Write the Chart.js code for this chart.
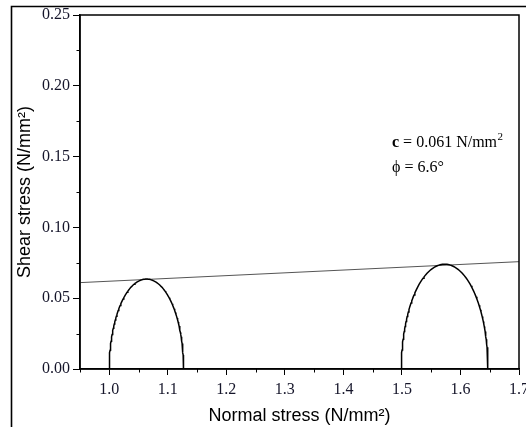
<!DOCTYPE html>
<html>
<head>
<meta charset="utf-8">
<script src="https://cdn.jsdelivr.net/npm/chart.js@4/dist/chart.umd.min.js"></script>
<style>
  html, body { margin: 0; padding: 0; background: #fff; }
  #wrap { position: relative; width: 526px; height: 427px; }
</style>
</head>
<body>
<div id="wrap"><canvas id="chart" width="526" height="427"></canvas></div>
<script>
// Principal stresses of the two tests (N/mm²): minor σ3 and major σ1
const sigma3 = [1.0, 1.499];
const sigma1 = [1.127, 1.647];

// Failure envelope end points (normal stress, shear stress)
const cohesion = 0.061;      // N/mm²
const frictionAngle = 6.6;   // degrees
const envelopeX = [0.95, 1.7];
const envelopeY = [cohesion, 0.0758];

// Axis ticks
const xTicks = [1.0, 1.1, 1.2, 1.3, 1.4, 1.5, 1.6, 1.7];
const xTickLabels = ['1.0', '1.1', '1.2', '1.3', '1.4', '1.5', '1.6', '1.7'];
const xMinorTicks = [0.95, 1.05, 1.15, 1.25, 1.35, 1.45, 1.55, 1.65];
const yTicks = [0, 0.05, 0.10, 0.15, 0.20, 0.25];
const yTickLabels = ['0.00', '0.05', '0.10', '0.15', '0.20', '0.25'];
const yMinorTicks = [0.025, 0.075, 0.125, 0.175, 0.225];

// Upper half of a Mohr circle through σ3 and σ1
function mohrHalf(s3, s1) {
  const c = (s1 + s3) / 2, r = (s1 - s3) / 2;
  const pts = [];
  const n = 120;
  for (let i = 0; i <= n; i++) {
    const a = Math.PI - Math.PI * i / n;
    pts.push({ x: c + r * Math.cos(a), y: r * Math.sin(a) });
  }
  return pts;
}

const serif = '"Liberation Serif", "Times New Roman", serif';
const sans = '"Liberation Sans", Arial, sans-serif';

const framePlugin = {
  id: 'frame',
  afterDraw(chart) {
    const { ctx, chartArea: a, scales } = chart;
    ctx.save();
    // outer figure border
    ctx.strokeStyle = '#000';
    ctx.lineWidth = 1.6;
    ctx.beginPath();
    ctx.moveTo(11.5, 427);
    ctx.lineTo(11.5, 6.5);
    ctx.lineTo(526, 6.5);
    ctx.stroke();
    // plot box
    ctx.lineWidth = 1.5;
    ctx.strokeRect(a.left, a.top, a.right - a.left, a.bottom - a.top);
    // minor ticks
    ctx.lineWidth = 1;
    ctx.beginPath();
    xMinorTicks.forEach(v => {
      const px = Math.round(scales.x.getPixelForValue(v)) + 0.5;
      ctx.moveTo(px, a.bottom);
      ctx.lineTo(px, a.bottom + 3.5);
    });
    yMinorTicks.forEach(v => {
      const py = Math.round(scales.y.getPixelForValue(v)) + 0.5;
      ctx.moveTo(a.left, py);
      ctx.lineTo(a.left - 3.5, py);
    });
    ctx.stroke();
    // strength parameters
    ctx.fillStyle = '#000';
    ctx.textBaseline = 'alphabetic';
    ctx.textAlign = 'left';
    let x = 392;
    ctx.font = 'bold 16px ' + serif;
    ctx.fillText('c', x, 147);
    x += ctx.measureText('c').width;
    ctx.font = '16px ' + serif;
    const rest = ' = ' + cohesion.toFixed(3) + ' N/mm';
    ctx.fillText(rest, x, 147);
    x += ctx.measureText(rest).width;
    ctx.font = '11px ' + serif;
    ctx.fillText('2', x + 0.5, 140);
    ctx.font = '16px ' + serif;
    ctx.fillText('\u03D5 = ' + frictionAngle.toFixed(1) + '\u00B0', 392, 172);
    ctx.restore();
  }
};

const circleStyle = {
  showLine: true, borderColor: '#000', borderWidth: 1.5,
  pointRadius: 0, fill: false, tension: 0
};

new Chart(document.getElementById('chart'), {
  type: 'scatter',
  data: {
    datasets: [
      Object.assign({ label: 'Test 1', data: mohrHalf(sigma3[0], sigma1[0]) }, circleStyle),
      Object.assign({ label: 'Test 2', data: mohrHalf(sigma3[1], sigma1[1]) }, circleStyle),
      {
        label: 'Envelope',
        data: envelopeX.map((x, i) => ({ x, y: envelopeY[i] })),
        showLine: true, borderColor: '#555', borderWidth: 1,
        pointRadius: 0, fill: false
      }
    ]
  },
  options: {
    responsive: false,
    animation: false,
    layout: { padding: { top: 15, right: 7, left: 0, bottom: 0 } },
    plugins: { legend: { display: false }, tooltip: { enabled: false } },
    scales: {
      x: {
        type: 'linear', min: 0.95, max: 1.7,
        afterBuildTicks(s) { s.ticks = xTicks.map(v => ({ value: v })); },
        afterFit(s) { s.height = 58; s.paddingLeft = 0; s.paddingRight = 0; },
        border: { display: true, color: '#000', width: 1.5 },
        grid: { drawOnChartArea: false, drawTicks: true, tickLength: 6, color: '#000', tickColor: '#000', lineWidth: 1 },
        ticks: {
          padding: 5, color: '#15152a', maxRotation: 0, autoSkip: false,
          font: { family: serif, size: 16 },
          callback(v, i) { return xTickLabels[i]; }
        },
        title: {
          display: true, text: 'Normal stress (N/mm\u00B2)', color: '#000',
          font: { family: sans, size: 18 }, padding: { top: 0, bottom: 0 }
        }
      },
      y: {
        type: 'linear', min: 0, max: 0.25,
        afterBuildTicks(s) { s.ticks = yTicks.map(v => ({ value: v })); },
        afterFit(s) { s.width = 80; s.paddingTop = 0; s.paddingBottom = 0; },
        border: { display: true, color: '#000', width: 1.5 },
        grid: { drawOnChartArea: false, drawTicks: true, tickLength: 7, color: '#000', tickColor: '#000', lineWidth: 1 },
        ticks: {
          padding: 3, color: '#15152a', autoSkip: false,
          font: { family: serif, size: 16 },
          callback(v, i) { return yTickLabels[i]; }
        },
        title: {
          display: true, text: 'Shear stress (N/mm\u00B2)', color: '#000',
          font: { family: sans, size: 18 }, padding: { top: 14, bottom: 0 }
        }
      }
    }
  },
  plugins: [framePlugin]
});
</script>
</body>
</html>
